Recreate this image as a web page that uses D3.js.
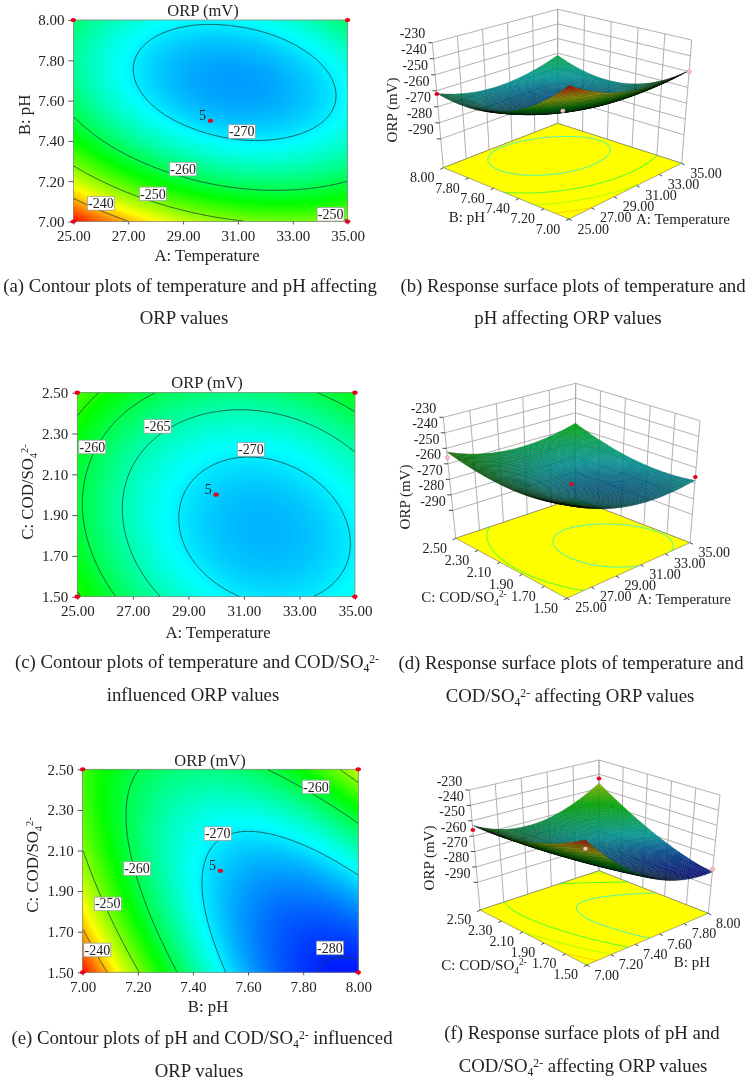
<!DOCTYPE html>
<html><head><meta charset="utf-8">
<script src="https://cdn.jsdelivr.net/npm/d3@7"></script>
<style>
html,body{margin:0;padding:0;background:#fff}
svg{display:block;filter:blur(0.35px)}
text{font-family:"Liberation Serif","Times New Roman",serif;fill:#222}
</style></head><body>
<svg id="c" width="749" height="1081"></svg>
<script>
// ---------- values ----------
const tempTicks = [25, 27, 29, 31, 33, 35];
const phTicks   = [7.0, 7.2, 7.4, 7.6, 7.8, 8.0];
const codTicks  = [1.5, 1.7, 1.9, 2.1, 2.3, 2.5];
const orpTicks  = [-230, -240, -250, -260, -270, -280, -290];

// ORP (mV); rows = y-axis ticks ascending, columns = x-axis ticks ascending
const orpTempPh = [
  [-231.2, -239.9, -246.0, -249.6, -250.7, -249.3],
  [-245.6, -253.5, -258.9, -261.8, -262.1, -260.0],
  [-255.8, -263.0, -267.6, -269.8, -269.4, -266.6],
  [-261.9, -268.3, -272.3, -273.7, -272.6, -269.0],
  [-263.8, -269.5, -272.7, -273.4, -271.6, -267.3],
  [-261.6, -266.6, -269.1, -269.0, -266.5, -261.4]
];
const orpTempCod = [
  [-254.4, -262.1, -267.3, -270.1, -270.3, -268.1],
  [-257.7, -265.0, -269.9, -272.3, -272.2, -269.6],
  [-259.2, -266.1, -270.6, -272.7, -272.2, -269.2],
  [-258.8, -265.4, -269.5, -271.2, -270.3, -267.0],
  [-256.5, -262.8, -266.5, -267.8, -266.6, -262.9],
  [-252.4, -258.3, -261.7, -262.6, -261.0, -257.0]
];
const orpPhCod = [
  [-231.5, -249.6, -263.6, -273.5, -279.2, -280.8],
  [-239.5, -255.4, -267.1, -274.8, -278.2, -277.6],
  [-245.6, -259.3, -268.8, -274.2, -275.4, -272.5],
  [-249.9, -261.4, -268.6, -271.8, -270.8, -265.6],
  [-252.4, -261.6, -266.6, -267.5, -264.2, -256.9],
  [-253.0, -259.9, -262.7, -261.4, -255.9, -246.3]
];
const levelsTempPh  = [-270, -260, -250, -240];
const levelsTempCod = [-270, -265, -260, -255];
const levelsPhCod   = [-280, -270, -260, -250, -240];
const floorLevelsTempPh  = [-270, -260, -250, -240];
const floorLevelsTempCod = [-270, -260];
const floorLevelsPhCod   = [-270, -260, -250, -240];

// contour labels: [value, x, y] in axis units
const labelsTempPh  = [[-270,31.14,7.446],[-260,29.0,7.26],[-250,27.9,7.137],[-240,26.0,7.09],[-250,34.38,7.036]];
const labelsTempCod = [[-260,25.54,2.234],[-265,27.89,2.335],[-270,31.25,2.222]];
const labelsPhCod   = [[-260,7.846,2.413],[-270,7.49,2.183],[-260,7.197,2.011],[-250,7.091,1.837],[-240,7.053,1.61],[-280,7.897,1.62]];

// design points seen on the 3D surfaces: [x, y, ORP, visible in front of the surface]
const pointsTempPh  = [[25,8,-262,1],[35,7,-250,0],[30,7.5,-272,0]];
const pointsTempCod = [[25,2.5,-256,0],[30,2,-270,1],[35,1.5,-266,1]];
const pointsPhCod   = [[7,2.5,-256,1],[8,2.5,-243,1],[7,1.5,-237,0],[8,1.5,-279,0]];

// ---------- helpers ----------
const svg = d3.select("#c");
const fmt2 = d3.format(".2f");
const rainbow = d3.scaleLinear().domain([-282,-269.25,-256.5,-243.75,-231])
  .range(["#0000ff","#00ffff","#00ff00","#ffff00","#ff0000"]).clamp(true);

function ext(a){const n=a.length;return [3*a[0]-3*a[1]+a[2],...a,3*a[n-1]-3*a[n-2]+a[n-3]];}
function cr(p0,p1,p2,p3,t){return .5*(2*p1+(p2-p0)*t+(2*p0-5*p1+4*p2-p3)*t*t+(-p0+3*p1-3*p2+p3)*t*t*t);}
function interp1(a,f){ // a is extended; f in [0,n-1]
  const n=a.length-2; let i=Math.min(Math.floor(f),n-2); const t=f-i;
  return cr(a[i],a[i+1],a[i+2],a[i+3],t);
}
// smooth resampling of a read grid for drawing; u,v in 0..1
function sampler(grid){
  const rows=grid.map(ext); const m=grid.length-1, n=grid[0].length-1;
  return (u,v)=>{
    const col=rows.map(r=>interp1(r,u*n));
    return interp1(ext(col),v*m);
  };
}
function cellGrid(f,nx,ny){
  const out=new Float64Array(nx*ny);
  for(let j=0;j<ny;j++)for(let i=0;i<nx;i++)out[j*nx+i]=f((i+.5)/nx,(j+.5)/ny);
  return out;
}
// contour lines without the segments that run along the grid border; coords in 0..1
function isoLines(vals,nx,ny,level){
  const cs=d3.contours().size([nx,ny]).contour(vals,level);
  const lines=[];
  const onB=(a,b)=>(a[0]===0&&b[0]===0)||(a[0]===nx&&b[0]===nx)||(a[1]===0&&b[1]===0)||(a[1]===ny&&b[1]===ny);
  cs.coordinates.forEach(poly=>poly.forEach(ring=>{
    let cur=[], segs=[];
    for(let k=0;k<ring.length-1;k++){
      const a=ring[k],b=ring[k+1];
      if(onB(a,b)){if(cur.length>1)segs.push(cur);cur=[];}
      else{if(!cur.length)cur.push(a);cur.push(b);}
    }
    if(cur.length>1)segs.push(cur);
    segs.forEach(s=>lines.push(s.map(p=>[p[0]/nx,p[1]/ny])));
  }));
  return lines;
}
const CODLABEL=[{t:"C: COD/SO"},{t:"4",sub:1},{t:"2-",sup:1}];
function rich(sel,parts){
  let prev=0;
  parts.forEach(p=>{
    const base=p.sub?4:p.sup?-5:0;
    const ts=sel.append("tspan").text(p.t).attr("dy",base-prev);
    if(p.sub||p.sup)ts.style("font-size","0.62em");
    prev=base;
  });
}
function label(x,y,parts,size,opt={}){
  const t=svg.append("text").attr("x",x).attr("y",y).attr("text-anchor",opt.anchor||"middle")
    .style("font-size",size+"px");
  if(opt.rot!=null)t.attr("transform",`rotate(${opt.rot} ${x} ${y})`);
  if(typeof parts==="string")t.text(parts);else rich(t,parts);
  return t;
}

// ---------- contour panel ----------
function contourPanel(o){
  const x=d3.scaleLinear().domain(d3.extent(o.xTicks)).range([o.left,o.right]);
  const y=d3.scaleLinear().domain(d3.extent(o.yTicks)).range([o.bottom,o.top]);
  const nx=240,ny=180;
  const f=sampler(o.grid), vals=cellGrid(f,nx,ny);
  const gx=d3.scaleLinear().domain([0,nx]).range([o.left,o.right]);
  const gy=d3.scaleLinear().domain([0,ny]).range([o.bottom,o.top]);
  const path=d3.geoPath(d3.geoTransform({point(a,b){this.stream.point(gx(a),gy(b));}}));
  const g=svg.append("g");
  g.append("rect").attr("x",o.left).attr("y",o.top).attr("width",o.right-o.left).attr("height",o.bottom-o.top)
    .attr("fill",rainbow(-300));
  const th=d3.range(-290,-224,0.2);
  g.selectAll("path.fill").data(d3.contours().size([nx,ny]).thresholds(th)(vals)).join("path")
    .attr("class","fill").attr("d",path).attr("fill",d=>rainbow(d.value));
  // contour lines
  const line=d3.line().x(p=>x.copy().domain([0,1])(p[0])).y(p=>y.copy().domain([0,1])(p[1]));
  o.levels.forEach(l=>isoLines(vals,nx,ny,l).forEach(s=>
    g.append("path").attr("d",line(s)).attr("fill","none").attr("stroke","#1c3a38").attr("stroke-width",0.8)));
  // frame + axes
  g.append("rect").attr("x",o.left).attr("y",o.top).attr("width",o.right-o.left).attr("height",o.bottom-o.top)
    .attr("fill","none").attr("stroke","#8a8a8a").attr("stroke-width",0.8);
  const ax=svg.append("g").attr("transform",`translate(0,${o.bottom})`)
    .call(d3.axisBottom(x).tickValues(o.xTicks).tickFormat(fmt2).tickSize(3).tickPadding(6));
  const ay=svg.append("g").attr("transform",`translate(${o.left},0)`)
    .call(d3.axisLeft(y).tickValues(o.yTicks).tickFormat(fmt2).tickSize(5).tickPadding(4));
  [ax,ay].forEach(a=>{a.select(".domain").remove();a.selectAll("line").attr("stroke","#555");
    a.selectAll("text").style("font-size","15px").attr("fill","#222");});
  // value labels
  o.labels.forEach(([v,a,b])=>{
    const lg=svg.append("g").attr("transform",`translate(${x(a)},${y(b)})`);
    lg.append("rect").attr("x",-13.5).attr("y",-6.8).attr("width",27).attr("height",13.6)
      .attr("fill","#fff").attr("stroke","#9a9a9a").attr("stroke-width",0.7);
    lg.append("text").attr("text-anchor","middle").attr("y",4.6).style("font-size","14px").text(v);
  });
  // design points
  const dots=[[o.xTicks[0],o.yTicks[0]],[o.xTicks[5],o.yTicks[0]],[o.xTicks[0],o.yTicks[5]],[o.xTicks[5],o.yTicks[5]],
    [(o.xTicks[0]+o.xTicks[5])/2,(o.yTicks[0]+o.yTicks[5])/2]];
  svg.selectAll(null).data(dots).join("ellipse").attr("cx",d=>x(d[0])).attr("cy",d=>y(d[1]))
    .attr("rx",2.7).attr("ry",2.1).attr("fill","#e8001c");
  const c=dots[4];
  label(x(c[0])-8,y(c[1])-0.5,"5",14);
  // titles
  label(o.titleX,o.titleY,"ORP (mV)",16.5);
  label(o.xLabX,o.xLabY,o.xLab,16.8);
  label(o.yLabX,o.yLabY,o.yLab,16.8,{rot:-90});
}

// ---------- surface panel ----------
function bil(c00,c10,c01,c11,u,v){
  return [0,1].map(k=>(1-u)*(1-v)*c00[k]+u*(1-v)*c10[k]+(1-u)*v*c01[k]+u*v*c11[k]);
}
function surfacePanel(o){
  const ux=d3.scaleLinear().domain(d3.extent(o.xTicks)).range([0,1]);
  const uy=d3.scaleLinear().domain(d3.extent(o.yTicks)).range([0,1]);
  const uz=d3.scaleLinear().domain([-308,-230]).range([0,1]);
  const B=o.box;
  const proj=(u,v,w)=>{
    const a=bil(B.ff,B.fr,B.fl,B.fb,u,v), b=bil(B.tf,B.tr,B.tl,B.tb,u,v);
    return [a[0]+(b[0]-a[0])*w,a[1]+(b[1]-a[1])*w];
  };
  const g=svg.append("g");
  const seg=(p,q,col,w)=>g.append("line").attr("x1",p[0]).attr("y1",p[1]).attr("x2",q[0]).attr("y2",q[1])
     .attr("stroke",col).attr("stroke-width",w);
  const wallCol="#a8a8a8";
  // wall grid
  o.xTicks.forEach(t=>seg(proj(ux(t),1,0),proj(ux(t),1,1),wallCol,0.9));
  o.yTicks.forEach(t=>seg(proj(1,uy(t),0),proj(1,uy(t),1),wallCol,0.9));
  orpTicks.forEach(z=>{
    seg(proj(0,1,uz(z)),proj(1,1,uz(z)),wallCol,0.9);
    seg(proj(1,1,uz(z)),proj(1,0,uz(z)),wallCol,0.9);
  });
  seg(proj(0,1,0),proj(1,1,0),wallCol,0.9); seg(proj(1,1,0),proj(1,0,0),wallCol,0.9);
  // floor
  const poly=d3.line();
  g.append("path").attr("d",poly([proj(0,0,0),proj(1,0,0),proj(1,1,0),proj(0,1,0)])+"Z").attr("fill","#ffff00").attr("stroke","#555").attr("stroke-width",0.5);
  const f=sampler(o.grid);
  const nx=160,ny=160, vals=cellGrid(f,nx,ny);
  const fl=d3.line().x(p=>proj(p[0],p[1],0)[0]).y(p=>proj(p[0],p[1],0)[1]);
  o.levels.forEach(l=>isoLines(vals,nx,ny,l).forEach(s=>
    g.append("path").attr("d",fl(s)).attr("fill","none").attr("stroke",rainbow(l)).attr("stroke-opacity",0.6).attr("stroke-width",1.1)));
  // floor edge ticks and labels
  o.yTicks.forEach(t=>{const p=proj(0,uy(t),0);seg(p,[p[0]-3,p[1]+1.6],"#333",0.9);
    label(p[0]+o.offL[0],p[1]+o.offL[1]+5,fmt2(t),14);});
  o.xTicks.forEach(t=>{const p=proj(ux(t),0,0);seg(p,[p[0]+3,p[1]+1.6],"#333",0.9);
    label(p[0]+o.offR[0],p[1]+o.offR[1]+5,fmt2(t),14);});
  orpTicks.forEach(z=>{const p=proj(0,1,uz(z));seg(p,[p[0]-4,p[1]],"#333",0.9);
    label(p[0]-7,p[1]-4.5,String(z),14,{anchor:"end"});});
  // surface mesh, painted back to front
  const N=64, cells=[];
  for(let j=N-1;j>=0;j--)for(let i=N-1;i>=0;i--)cells.push([i,j]);
  cells.sort((a,b)=>(b[0]+b[1])-(a[0]+a[1]));
  const pt=(i,j)=>{const u=i/N,v=j/N;return proj(u,v,uz(f(u,v)));};
  const areaOf=([i,j])=>{
    const a=pt(i,j),b=pt(i+1,j),c=pt(i+1,j+1),d=pt(i,j+1);
    return .5*((c[0]-a[0])*(d[1]-b[1])-(d[0]-b[0])*(c[1]-a[1]));
  };
  const maxArea=d3.max(cells,c=>Math.abs(areaOf(c)));
  svg.append("g").selectAll("path").data(cells).join("path")
    .attr("d",([i,j])=>poly([pt(i,j),pt(i+1,j),pt(i+1,j+1),pt(i,j+1)])+"Z")
    .attr("fill",c=>{
      const [i,j]=c, ar=areaOf(c);
      const col=d3.rgb(rainbow(f((i+.5)/N,(j+.5)/N)));
      const s=(0.34+0.5*Math.sqrt(Math.abs(ar)/maxArea))*(ar>0?1:0.9);
      return d3.rgb(col.r*s,col.g*s,col.b*s).formatHex();
    })
    .attr("stroke","#000").attr("stroke-opacity",0.5).attr("stroke-width",0.3);
  // design points
  svg.selectAll(null).data(o.points).join("ellipse")
    .attr("cx",d=>proj(ux(d[0]),uy(d[1]),uz(d[2]))[0]).attr("cy",d=>proj(ux(d[0]),uy(d[1]),uz(d[2]))[1])
    .attr("rx",2.3).attr("ry",2).attr("fill",d=>d[3]?"#e8001c":"#f6c0c6").attr("stroke",d=>d[3]?"none":"#c98088").attr("stroke-width",0.4);
  // titles
  label(o.xLab[0],o.xLab[1],o.xLab[2],15);
  label(o.yLab[0],o.yLab[1],o.yLab[2],15);
  label(o.zLab[0],o.zLab[1],"ORP (mV)",15,{rot:-90});
}

// ---------- panels ----------
contourPanel({grid:orpTempPh,xTicks:tempTicks,yTicks:phTicks,levels:levelsTempPh,labels:labelsTempPh,
  left:73.4,right:347.6,top:20,bottom:221.5,titleX:203,titleY:15.5,xLab:"A: Temperature",xLabX:207,xLabY:260.5,
  yLab:"B: pH",yLabX:30,yLabY:115});
contourPanel({grid:orpTempCod,xTicks:tempTicks,yTicks:codTicks,levels:levelsTempCod,labels:labelsTempCod,
  left:77.3,right:355,top:392.7,bottom:596.7,titleX:207,titleY:387.5,xLab:"A: Temperature",xLabX:218,xLabY:637.5,
  yLab:CODLABEL,yLabX:33,yLabY:492});
contourPanel({grid:orpPhCod,xTicks:phTicks,yTicks:codTicks,levels:levelsPhCod,labels:labelsPhCod,
  left:82.7,right:358.3,top:769.3,bottom:972.3,titleX:210,titleY:765.5,xLab:"B: pH",xLabX:208,xLabY:1011.5,
  yLab:CODLABEL,yLabX:38,yLabY:865});

surfacePanel({grid:orpTempPh,xTicks:tempTicks,yTicks:phTicks,levels:floorLevelsTempPh,points:pointsTempPh,
  box:{fl:[443.3,167.7],fb:[557.7,123.3],fr:[681.7,163.3],ff:[569,219],tl:[432.3,42.7],tb:[557.7,9.3],tr:[691.7,40],tf:[569.3,83.3]},
  offL:[-21,9.7],offR:[24.3,9.5],
  xLab:[683,224,"A: Temperature"],yLab:[467,222,"B: pH"],zLab:[397,110]});
surfacePanel({grid:orpTempCod,xTicks:tempTicks,yTicks:codTicks,levels:floorLevelsTempCod,points:pointsTempCod,
  box:{fl:[455.7,538.3],fb:[575,498.3],fr:[690,542.7],ff:[566.7,598.3],tl:[443.3,417.3],tb:[575.7,383.3],tr:[700,420.7],tf:[565.7,461.7]},
  offL:[-21,10],offR:[24.3,9],
  xLab:[684,604,"A: Temperature"],yLab:[464,602,CODLABEL],zLab:[410,497]});
surfacePanel({grid:orpPhCod,xTicks:phTicks,yTicks:codTicks,levels:floorLevelsPhCod,points:pointsPhCod,
  box:{fl:[480,910],fb:[599,870.7],fr:[708.3,913.3],ff:[586.7,965],tl:[469.3,790],tb:[599,760],tr:[720,795],tf:[585.3,837.3]},
  offL:[-21,9.3],offR:[20,9.7],
  xLab:[692,967,"B: pH"],yLab:[484,970,CODLABEL],zLab:[434,858]});

// ---------- captions ----------
const so4=[{t:"4",sub:1},{t:"2-",sup:1}];
const caps=[
 [190,292,"(a) Contour plots of temperature and pH affecting"],
 [184,324,"ORP values"],
 [573,292,"(b) Response surface plots of temperature and"],
 [568,324,"pH affecting ORP values"],
 [197,668,[{t:"(c) Contour plots of temperature and COD/SO"},...so4]],
 [193,701,"influenced ORP values"],
 [571,669,"(d) Response surface plots of temperature and"],
 [570,702,[{t:"COD/SO"},...so4,{t:" affecting ORP values"}]],
 [202,1044,[{t:"(e) Contour plots of pH and COD/SO"},...so4,{t:" influenced"}]],
 [199,1077,"ORP values"],
 [582,1039,"(f) Response surface plots of pH and"],
 [583,1072,[{t:"COD/SO"},...so4,{t:" affecting ORP values"}]]
];
caps.forEach(c=>label(c[0],c[1],c[2],18.8));
</script>
</body></html>
